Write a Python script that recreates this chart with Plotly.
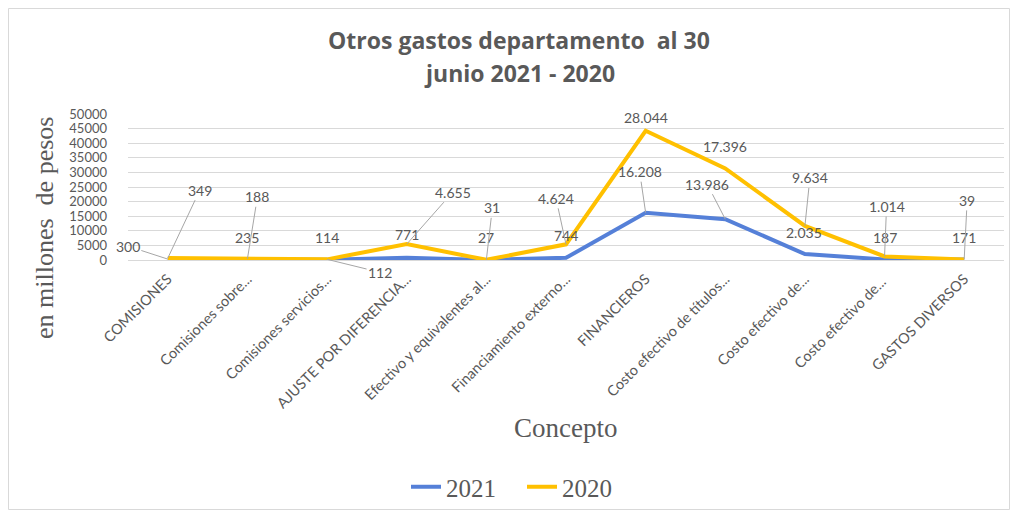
import plotly.graph_objects as go

categories = ["COMISIONES", "Comisiones sobre...", "Comisiones servicios...",
              "AJUSTE POR DIFERENCIA...", "Efectivo y equivalentes al...",
              "Financiamiento externo...", "FINANCIEROS", "Costo efectivo de títulos...",
              "Costo efectivo de...", "Costo efectivo de... ", "GASTOS DIVERSOS"]
values_2021 = [300, 235, 114, 771, 27, 744, 16208, 13986, 2035, 187, 171]
values_2020 = [349, 188, 112, 4655, 31, 4624, 28044, 17396, 9634, 1014, 39]
y_ticks = [0, 5000, 10000, 15000, 20000, 25000, 30000, 35000, 40000, 45000, 50000]

# label placement offsets in pixels (text center relative to point), and whether a leader line is drawn
off_2021 = [(-40, -13, True), (0, -22, False), (0, -22, False), (0, -23, False), (0, -22, False),
            (0, -22, False), (-6, -41, True), (-18, -35, True), (-1, -22, False), (0, -22, False),
            (0, -22, False)]
off_2020 = [(32, -68, True), (10, -62, True), (53, 13, True), (46, -52, True), (6, -52, True),
            (-10, -46, True), (0, -13, False), (0, -22, False), (5, -48, True), (2, -50, True),
            (3, -59, True)]

BLUE = "#5580D8"
GOLD = "#FFC000"
GRAY = "#595959"

def fmt(v):
    return f"{v:,}".replace(",", ".")

fig = go.Figure()
fig.add_trace(go.Scatter(x=categories, y=values_2021, name="2021", mode="lines",
                         stackgroup="one", fill="none",
                         line=dict(color=BLUE, width=4)))
fig.add_trace(go.Scatter(x=categories, y=values_2020, name="2020", mode="lines",
                         stackgroup="one", fill="none",
                         line=dict(color=GOLD, width=4)))

annotations = []
label_font = dict(family="Lato, Open Sans, sans-serif", size=14, color=GRAY)
for i, c in enumerate(categories):
    base = values_2021[i]
    top = values_2021[i] + values_2020[i]
    for val, yv, (dx, dy, leader) in ((values_2021[i], base, off_2021[i]),
                                       (values_2020[i], top, off_2020[i])):
        if leader:
            annotations.append(dict(x=c, y=yv, xref="x", yref="y", text=fmt(val),
                                    showarrow=True, ax=dx, ay=dy, arrowhead=0,
                                    arrowwidth=1, arrowcolor="#A6A6A6", standoff=0,
                                    font=label_font))
        else:
            annotations.append(dict(x=c, y=yv, xref="x", yref="y", text=fmt(val),
                                    showarrow=False, xshift=dx, yshift=-dy,
                                    font=label_font))

# positions measured in the reference picture, relative to the plot area
PX = lambda px: (px - 128) / 876
PY = lambda py: (260 - py) / 146

title_font = dict(family="Open Sans, sans-serif", size=23, color=GRAY)
annotations.append(dict(text="<b>Otros gastos departamento  al 30</b>", xref="paper", yref="paper",
                        x=PX(519), y=PY(40), showarrow=False,
                        xanchor="center", yanchor="middle", font=title_font))
annotations.append(dict(text="<b>junio 2021 - 2020</b>", xref="paper", yref="paper",
                        x=PX(519), y=PY(73), showarrow=False,
                        xanchor="center", yanchor="middle", font=title_font))
annotations.append(dict(text="en millones  de pesos", xref="paper", yref="paper",
                        x=PX(44), y=PY(228), showarrow=False,
                        textangle=-90, xanchor="center", yanchor="middle",
                        font=dict(family="Liberation Serif, serif", size=26, color=GRAY)))
annotations.append(dict(text="Concepto", xref="paper", yref="paper",
                        x=PX(565), y=PY(428), showarrow=False,
                        xanchor="center", yanchor="middle",
                        font=dict(family="Liberation Serif, serif", size=27, color=GRAY)))

fig.update_layout(
    width=1010, height=505,
    margin=dict(l=120, r=14, t=106, b=253, autoexpand=False),
    paper_bgcolor="white", plot_bgcolor="white",
    showlegend=True,
    legend=dict(orientation="h", x=PX(406), y=PY(487),
                xanchor="left", yanchor="middle", bgcolor="rgba(0,0,0,0)",
                entrywidth=71, entrywidthmode="pixels",
                font=dict(family="Liberation Serif, serif", size=25, color=GRAY)),
    annotations=annotations,
    shapes=[dict(type="rect", xref="paper", yref="paper",
                 x0=PX(8.5), x1=PX(1009.5), y0=PY(509.5), y1=PY(8.5),
                 line=dict(color="#D9D9D9", width=1))],
)
fig.update_xaxes(type="category", range=[-0.5, 10.5], showgrid=False, automargin=False,
                 showline=True, linecolor="#D9D9D9", linewidth=1,
                 tickangle=-45, ticks="", ticklabelstandoff=4,
                 tickfont=dict(family="Lato, sans-serif", size=14.5, color=GRAY))
fig.update_yaxes(range=[0, 50000], tickvals=y_ticks, tickformat="d", automargin=False,
                 showgrid=True, gridcolor="#D9D9D9", gridwidth=1,
                 zeroline=False, showline=False, ticks="",
                 ticklabelstandoff=20,
                 tickfont=dict(family="Lato, sans-serif", size=13, color=GRAY))

fig.write_html("out.html")
